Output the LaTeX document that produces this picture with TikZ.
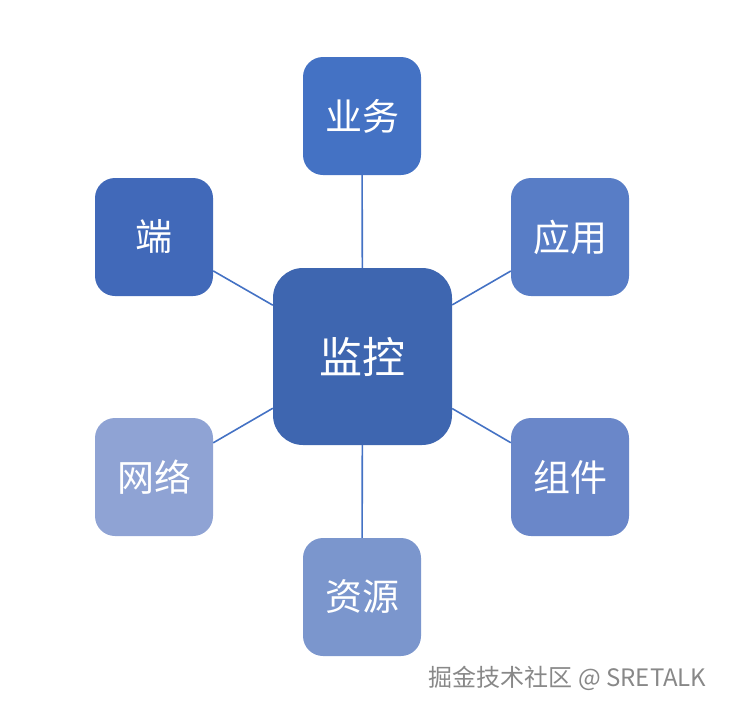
\documentclass[tikz,border=0pt]{standalone}
\usepackage{fontspec}
\newfontfamily\cjk{Noto Sans CJK SC}
\usetikzlibrary{positioning}
\definecolor{MonBlue}{HTML}{3E66B0}
\definecolor{MonLink}{HTML}{4472C4}
\definecolor{MonA}{HTML}{4472C4}
\definecolor{MonB}{HTML}{587DC6}
\definecolor{MonC}{HTML}{6A87C9}
\definecolor{MonD}{HTML}{7B96CD}
\definecolor{MonE}{HTML}{8FA3D4}
\definecolor{MonF}{HTML}{4169B9}
\definecolor{MonMark}{HTML}{888888}

\tikzset{
  hubbox/.style={fill=MonBlue, rounded corners=30pt, minimum width=179pt,
                 minimum height=177pt, inner sep=0pt, text=white,
                 font=\cjk\fontsize{43}{46}\selectfont},
  leafbox/.style={rounded corners=20pt, minimum size=118pt, inner sep=0pt,
                  text=white, font=\cjk\fontsize{37}{40}\selectfont},
  link/.style={draw=MonLink, line width=1.6pt}
}

\begin{document}
\begin{tikzpicture}[x=1pt, y=-1pt]
  \useasboundingbox (0,0) rectangle (730,712);
  % centre
  \node[hubbox] (hub) at (362.5,356.5) {监控};
  % six areas round it
  \foreach \name/\px/\py/\col/\txt in {
    biz/362/116/MonA/业务,
    app/570/237/MonB/应用,
    comp/570/477/MonC/组件,
    res/362/597/MonD/资源,
    net/154/477/MonE/网络,
    term/154/237/MonF/端
  } {
    \node[leafbox, fill=\col] (\name) at (\px,\py) {\txt};
    \draw[link] (hub) -- (\name);
  }
  % watermark
  \node[font=\cjk\fontsize{24}{27}\selectfont, text=MonMark, anchor=east]
       (mark) at (710,678) {掘金技术社区 @ SRETALK};
\end{tikzpicture}
\end{document}
